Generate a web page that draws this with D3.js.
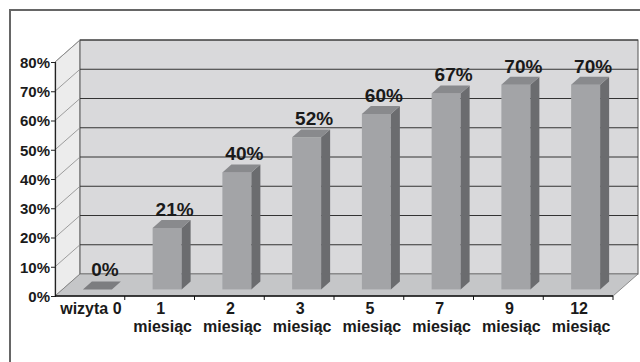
<!DOCTYPE html>
<html>
<head>
<meta charset="utf-8">
<script src="https://cdn.jsdelivr.net/npm/d3@7"></script>
<style>
  body { margin: 0; background: #fff; }
  svg text { font-family: "Liberation Sans", Arial, sans-serif; font-weight: bold; fill: #1a1a1a; }
</style>
</head>
<body>
<svg id="chart" width="640" height="362"></svg>
<script>
// chart data
const categories = ["wizyta 0", "1 miesiąc", "2 miesiąc", "3 miesiąc", "5 miesiąc", "7 miesiąc", "9 miesiąc", "12 miesiąc"];
const values = [0, 0.21, 0.40, 0.52, 0.60, 0.67, 0.70, 0.70];
const yTicks = [0, 0.1, 0.2, 0.3, 0.4, 0.5, 0.6, 0.7, 0.8];

const svg = d3.select("#chart");

// 3d depth offset
const depthX = 25, depthY = -22;
const front0 = 0.3, front1 = 0.66;

const x = d3.scaleBand().domain(categories).range([55, 613]);
const y = d3.scaleLinear().domain([0, 0.8]).range([296, 62]);
const barW = 29;

// outer frame (cut by the window on right and bottom)
svg.append("path")
  .attr("d", "M10,372 L10,10 L650,10")
  .attr("fill", "none").attr("stroke", "#666").attr("stroke-width", 2);

const x0 = x.range()[0], x1 = x.range()[1];
const yb = y(0), yt = y(0.8);

// left wall
svg.append("path")
  .attr("d", `M${x0},${yb} L${x0},${yt} L${x0 + depthX},${yt + depthY} L${x0 + depthX},${yb + depthY} Z`)
  .attr("fill", "#ececec").attr("stroke", "#888").attr("stroke-width", 0.8);

// back wall
svg.append("rect")
  .attr("x", x0 + depthX).attr("y", yt + depthY)
  .attr("width", x1 - x0).attr("height", yb - yt)
  .attr("fill", "#d9d9db").attr("stroke", "#555").attr("stroke-width", 1);

// floor
svg.append("path")
  .attr("d", `M${x0},${yb} L${x1},${yb} L${x1 + depthX},${yb + depthY} L${x0 + depthX},${yb + depthY} Z`)
  .attr("fill", "#c5c6c8").attr("stroke", "#777").attr("stroke-width", 0.8);

// gridlines on back wall + diagonals on left wall
const grid = svg.append("g");
yTicks.slice(1).forEach(t => {
  grid.append("line")
    .attr("x1", x0 + depthX).attr("x2", x1 + depthX)
    .attr("y1", y(t) + depthY).attr("y2", y(t) + depthY)
    .attr("stroke", "#333").attr("stroke-width", 1);
  grid.append("line")
    .attr("x1", x0).attr("x2", x0 + depthX)
    .attr("y1", y(t)).attr("y2", y(t) + depthY)
    .attr("stroke", "#888").attr("stroke-width", 0.8);
});

// y axis
const yAxis = svg.append("g")
  .attr("transform", `translate(${x0},0)`)
  .call(d3.axisLeft(y).tickValues(yTicks).tickFormat(d3.format(".0%")).tickSize(4).tickPadding(1));
yAxis.select(".domain").attr("stroke", "#222").attr("stroke-width", 1.2);
yAxis.selectAll(".tick line").attr("stroke", "#222");
yAxis.selectAll("text").style("font-size", "15px").attr("fill", "#1a1a1a").attr("dy", "0.36em");

// x axis, ticks at band boundaries
const xAxis = svg.append("g").attr("transform", `translate(0,${yb})`);
xAxis.append("line").attr("x1", x0).attr("x2", x1).attr("stroke", "#111").attr("stroke-width", 1.5);
categories.forEach((c, i) => {
  if (i === 0) return;
  xAxis.append("line").attr("x1", x(c)).attr("x2", x(c)).attr("y1", 0).attr("y2", 4)
    .attr("stroke", "#111").attr("stroke-width", 1);
});
xAxis.append("line").attr("x1", x1).attr("x2", x1).attr("y1", 0).attr("y2", 4).attr("stroke", "#111");

const xl = svg.append("g");
categories.forEach(c => {
  const parts = c.split(" ");
  const cx = x(c) + x.bandwidth() / 2;
  const t = xl.append("text").attr("text-anchor", "middle").style("font-size", "16px");
  if (c === "wizyta 0") {
    t.attr("x", cx + 1).attr("y", 314).text(c);
  } else {
    t.append("tspan").attr("x", cx + 1).attr("y", 314).text(parts[0]);
    t.append("tspan").attr("x", cx + 3).attr("y", 332).text(parts[1]);
  }
});

// bars
const bars = svg.append("g");
categories.forEach((c, i) => {
  const v = values[i];
  const bx = x(c) + (x.bandwidth() - barW) / 2 + depthX * front0;
  const by0 = y(0) + depthY * front0;
  const byT = y(v) + depthY * front0;
  const ddx = depthX * (front1 - front0), ddy = depthY * (front1 - front0);
  const g = bars.append("g");
  if (v > 0) {
    g.append("rect").attr("x", bx).attr("y", byT).attr("width", barW).attr("height", by0 - byT)
      .attr("fill", "#a3a4a7");
    g.append("path")
      .attr("d", `M${bx + barW},${by0} L${bx + barW},${byT} L${bx + barW + ddx},${byT + ddy} L${bx + barW + ddx},${by0 + ddy} Z`)
      .attr("fill", "#6b6c6f");
  }
  g.append("path")
    .attr("d", `M${bx},${byT} L${bx + barW},${byT} L${bx + barW + ddx},${byT + ddy} L${bx + ddx},${byT + ddy} Z`)
    .attr("fill", v > 0 ? "#898a8d" : "#7c7d80");

  svg.append("text")
    .attr("x", bx + barW / 2 + 7.5)
    .attr("y", byT - (v > 0 ? 12 : 13))
    .attr("text-anchor", "middle")
    .style("font-size", "19px")
    .text(d3.format(".0%")(v));
});
</script>
</body>
</html>
